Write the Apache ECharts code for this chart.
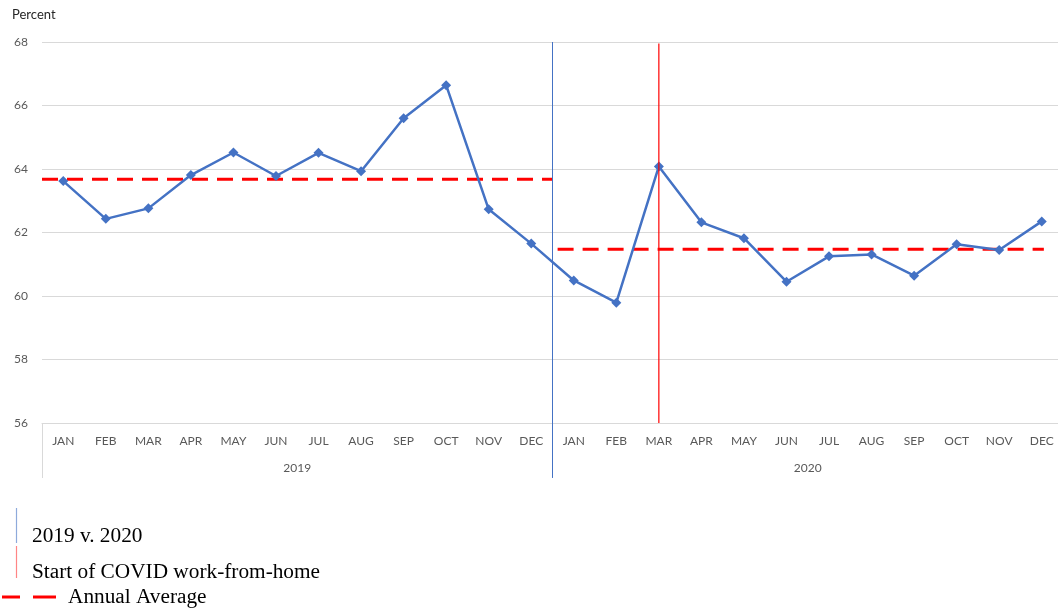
<!DOCTYPE html>
<html>
<head>
<meta charset="utf-8">
<script src="https://cdn.jsdelivr.net/npm/echarts@6/dist/echarts.min.js"></script>
<style>
html,body{margin:0;padding:0;background:#fff;overflow:hidden;width:1058px;height:609px;}
#chart{width:1064px;height:609px;}
</style>
</head>
<body>
<div id="chart"></div>
<script>
// ---- data ----
const months = ['JAN','FEB','MAR','APR','MAY','JUN','JUL','AUG','SEP','OCT','NOV','DEC'];
const years = ['2019','2020'];
const rate2019 = [63.62, 62.43, 62.76, 63.81, 64.52, 63.78, 64.51, 63.93, 65.60, 66.64, 62.73, 61.65];
const rate2020 = [60.49, 59.79, 64.08, 62.32, 61.82, 60.45, 61.25, 61.31, 60.64, 61.63, 61.45, 62.35];
const annualAverage = [63.68, 61.47];
const yTicks = [56, 58, 60, 62, 64, 66, 68];

const categories = years.flatMap(() => months);
const rates = rate2019.concat(rate2020);

// reference line extents on a hidden 0..24 value axis (category boundaries)
const avgSpan2019 = [0, 12];
const avgSpan2020 = [12.12, 23.55];
const dividerX = 12;          // boundary between 2019 and 2020
const covidX = 14.5;          // centre of MAR 2020

const chart = echarts.init(document.getElementById('chart'), null, {renderer: 'canvas'});
const axisFont = 'Lato, "Noto Sans", sans-serif';
const grey = '#d9d9d9';
const serif = '21.3px "Liberation Serif", serif';

chart.setOption({
  animation: false,
  backgroundColor: '#ffffff',
  title: {
    text: 'Percent', left: 12, top: 8, padding: 0,
    textStyle: {fontFamily: axisFont, fontSize: 13, fontWeight: 'normal', color: '#262626'}
  },
  grid: {left: 42, right: 1, top: 42, height: 381, containLabel: false},
  xAxis: [
    {
      type: 'category', data: categories, boundaryGap: true,
      axisLine: {show: true, lineStyle: {color: grey, width: 1}},
      axisTick: {show: false},
      axisLabel: {interval: 0, margin: 12, fontFamily: axisFont, fontSize: 12, color: '#595959'}
    },
    {
      type: 'category', data: years, boundaryGap: true, position: 'bottom',
      axisLine: {show: false},
      axisTick: {show: true, length: 55, interval: 0, lineStyle: {color: grey}},
      axisLabel: {interval: 0, margin: 39, fontFamily: axisFont, fontSize: 12, color: '#595959'}
    },
    {type: 'value', show: false, min: 0, max: 24}
  ],
  yAxis: {
    type: 'value', min: yTicks[0], max: yTicks[yTicks.length - 1], interval: 2,
    axisLine: {show: false}, axisTick: {show: false},
    splitLine: {show: true, lineStyle: {color: grey, width: 1}},
    axisLabel: {margin: 14, fontFamily: axisFont, fontSize: 12, color: '#595959'}
  },
  series: [
    {
      name: 'Annual Average 2019', type: 'line', xAxisIndex: 2, z: 2,
      data: avgSpan2019.map(x => [x, annualAverage[0]]),
      symbol: 'none', silent: true,
      lineStyle: {color: '#ff0000', width: 3, type: [16, 9]}
    },
    {
      name: 'Annual Average 2020', type: 'line', xAxisIndex: 2, z: 2,
      data: avgSpan2020.map(x => [x, annualAverage[1]]),
      symbol: 'none', silent: true,
      lineStyle: {color: '#ff0000', width: 3, type: [16, 9]}
    },
    {
      name: 'Rate', type: 'line', xAxisIndex: 0, z: 4,
      data: rates,
      symbol: 'diamond', symbolSize: 10,
      itemStyle: {color: '#4472c4'},
      lineStyle: {color: '#4472c4', width: 2.5}
    },
    {
      name: '2019 v. 2020', type: 'line', xAxisIndex: 2, z: 5, clip: false,
      data: [[dividerX, 68], [dividerX, 54.27]],
      symbol: 'none', silent: true,
      lineStyle: {color: '#4472c4', width: 1}
    },
    {
      name: 'Start of COVID work-from-home', type: 'line', xAxisIndex: 2, z: 5, clip: false,
      data: [[covidX, 67.95], [covidX, 56]],
      symbol: 'none', silent: true,
      lineStyle: {color: '#ff0000', width: 1.2}
    }
  ],
  graphic: [
    {type: 'line', shape: {x1: 16.5, y1: 508, x2: 16.5, y2: 543}, style: {stroke: '#8eaadb', lineWidth: 1.2}},
    {type: 'text', left: 32, top: 526, style: {text: '2019 v. 2020', font: serif, fill: '#000'}},
    {type: 'line', shape: {x1: 16.5, y1: 546, x2: 16.5, y2: 578}, style: {stroke: '#ff8585', lineWidth: 1.2}},
    {type: 'text', left: 32, top: 562, style: {text: 'Start of COVID work-from-home', font: serif, fill: '#000'}},
    {type: 'line', shape: {x1: 2, y1: 597, x2: 20, y2: 597}, style: {stroke: '#ff0000', lineWidth: 3}},
    {type: 'line', shape: {x1: 33, y1: 597, x2: 56, y2: 597}, style: {stroke: '#ff0000', lineWidth: 3}},
    {type: 'text', left: 68, top: 587, style: {text: 'Annual Average', font: serif, fill: '#000'}}
  ]
});
</script>
</body>
</html>
